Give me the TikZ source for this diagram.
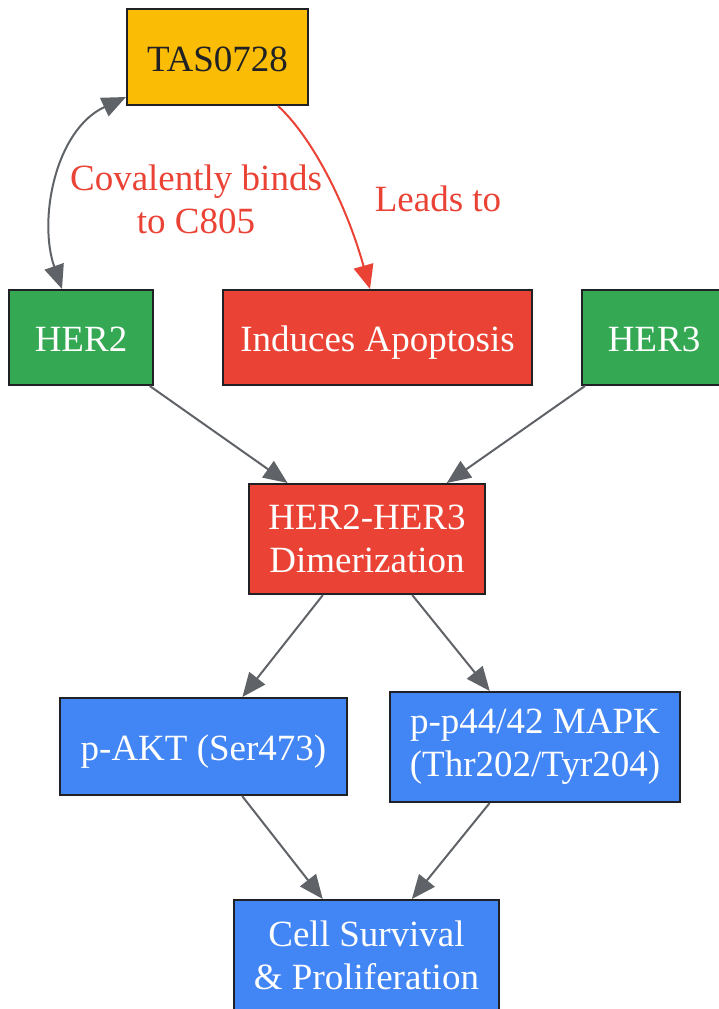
\documentclass[tikz,border=0pt]{standalone}
\usepackage{fontspec}
\setmainfont{Liberation Serif}
\usetikzlibrary{arrows.meta}
\definecolor{gy}{HTML}{FBBC05}
\definecolor{gg}{HTML}{34A853}
\definecolor{gr}{HTML}{EA4335}
\definecolor{gb}{HTML}{4285F4}
\definecolor{dk}{HTML}{202124}
\definecolor{ar}{HTML}{5F6368}
\tikzset{
  box/.style={draw=dk, line width=2pt, inner sep=0pt, align=center, text=white,
    font=\fontsize{37}{43}\selectfont},
  one/.style={text height=28pt, text depth=0pt},
  lbl/.style={text=gr, align=center, inner sep=0pt, font=\fontsize{37}{43}\selectfont},
  tip/.tip={Triangle[length=24pt,width=20pt]},
  edge/.style={draw=ar, line width=2pt, -tip},
  redge/.style={draw=gr, line width=2pt, -tip},
}
\begin{document}
\begin{tikzpicture}[x=1pt,y=-1pt]
\useasboundingbox (0,0) rectangle (718,1009);
\node[box, one, fill=gy, text=dk, minimum width=181pt, minimum height=96pt] (tas) at (217.5,57) {TAS0728};
\node[box, one, fill=gg, minimum width=144pt, minimum height=95pt] (her2) at (81,337.5) {HER2};
\node[box, one, fill=gr, minimum width=309pt, minimum height=95pt] (apo) at (377.5,337.5) {Induces Apoptosis};
\node[box, one, fill=gg, minimum width=144pt, minimum height=95pt] (her3) at (654,337.5) {HER3};
\node[box, fill=gr, minimum width=236pt, minimum height=110pt] (dim) at (367,539) {HER2-HER3\\Dimerization};
\node[box, one, fill=gb, minimum width=287pt, minimum height=97pt] (akt) at (203.5,746.5) {p-AKT (Ser473)};
\node[box, fill=gb, minimum width=290pt, minimum height=110pt] (mapk) at (535,747) {p-p44/42 MAPK\\(Thr202/Tyr204)};
\node[box, fill=gb, minimum width=265pt, minimum height=110pt] (cell) at (366.5,955) {Cell Survival\\\& Proliferation};

\coordinate (t1) at ([yshift=9pt]tas.south west);
\coordinate (h1) at ([xshift=-19pt]her2.north);
\draw[edge, tip-tip] (t1) .. controls (55,130) and (38,220) .. (h1);
\coordinate (t2) at ([xshift=60.5pt]tas.south);
\coordinate (a1) at ([xshift=-7.5pt]apo.north);
\draw[redge] (t2) .. controls (310,135) and (345,200) .. (a1);

\node[lbl] (l1) at (196,199) {Covalently binds\\to C805};
\node[lbl] (l2) at (438,199) {Leads to};

\draw[edge] (her2) -- (dim);
\draw[edge] (her3) -- (dim);
\draw[edge] (dim) -- (akt);
\draw[edge] (dim) -- (mapk);
\draw[edge] (akt) -- (cell);
\draw[edge] (mapk) -- (cell);
\end{tikzpicture}
\end{document}
